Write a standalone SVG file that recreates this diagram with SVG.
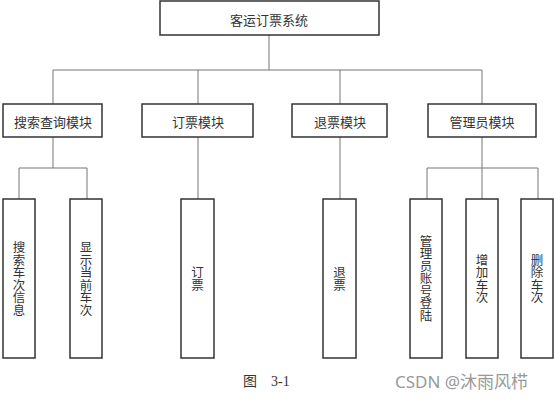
<svg xmlns="http://www.w3.org/2000/svg" width="554" height="415" viewBox="0 0 554 415">
<style>
.box{fill:#fff;stroke:#333;stroke-width:1.5}
.ln{fill:none;stroke:#777;stroke-width:1}
.t{font-family:"Noto Sans CJK SC","Noto Sans",sans-serif;font-size:13px;fill:#333;text-anchor:middle;dominant-baseline:central}
.v{font-family:"Noto Sans CJK SC",sans-serif;font-size:12.5px;fill:#333;text-anchor:middle;writing-mode:vertical-rl;text-orientation:upright}
.cap{font-family:"Liberation Serif","Noto Sans CJK SC",serif;font-size:14px;fill:#333}
.wm{font-family:"Noto Sans","Noto Sans CJK SC",sans-serif;font-size:17px;fill:#999}
</style>
<rect width="554" height="415" fill="#fff"/>
<g id="connectors">
<path class="ln" d="M269 35V70M53 70H482M53 70V104M198 70V104M340 70V104M482 70V104"/>
<path class="ln" d="M53 137V168M19 168H87M19 168V199M87 168V199"/>
<path class="ln" d="M198 137V199"/>
<path class="ln" d="M340 137V199"/>
<path class="ln" d="M482 137V199M427 168H538M427 168V199M538 168V199"/>
</g>
<g id="root"><rect class="box" x="160" y="1" width="219" height="34"/><text class="t" x="269" y="19">客运订票系统</text></g>
<g id="search"><rect class="box" x="3" y="104" width="99" height="33"/><text class="t" x="53" y="121">搜索查询模块</text></g>
<g id="book"><rect class="box" x="142" y="104" width="111" height="33"/><text class="t" x="198" y="121">订票模块</text></g>
<g id="refund"><rect class="box" x="292" y="104" width="95" height="33"/><text class="t" x="340" y="121">退票模块</text></g>
<g id="admin"><rect class="box" x="428" y="104" width="108" height="33"/><text class="t" x="482" y="121">管理员模块</text></g>
<g id="searchInfo"><rect class="box" x="3" y="199" width="32" height="159"/><text class="v" x="19" y="278.5">搜索车次信息</text></g>
<g id="showTrain"><rect class="box" x="70" y="199" width="32" height="159"/><text class="v" x="86" y="278.5">显示当前车次</text></g>
<g id="bookTicket"><rect class="box" x="181" y="199" width="33" height="159"/><text class="v" x="197.5" y="278.5">订票</text></g>
<g id="refundTicket"><rect class="box" x="323" y="199" width="33" height="159"/><text class="v" x="339.5" y="278.5">退票</text></g>
<g id="adminLogin"><rect class="box" x="410" y="199" width="32" height="159"/><text class="v" x="426" y="278.5">管理员账号登陆</text></g>
<g id="addTrain"><rect class="box" x="466" y="199" width="32" height="159"/><text class="v" x="482" y="278.5">增加车次</text></g>
<g id="delTrain"><rect class="box" x="521" y="199" width="32" height="159"/><text class="v" x="537" y="278.5">删除车次</text></g>
<text class="cap" x="243" y="386">图</text>
<text class="cap" x="271" y="386">3-1</text>
<text class="wm" x="395" y="388">CSDN @沐雨风栉</text>
</svg>
